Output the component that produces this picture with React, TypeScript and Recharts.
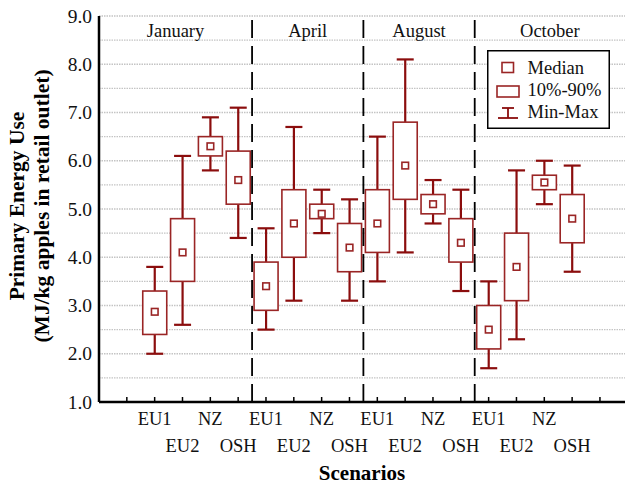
import React from "react";
import {
  ComposedChart, Bar, XAxis, YAxis, CartesianGrid, ReferenceLine,
  ReferenceArea, Legend,
} from "recharts";

// boxes per month, in scenario order EU1, EU2, NZ, OSH
const months = ["January", "April", "August", "October"];
const scenarios = ["EU1", "EU2", "NZ", "OSH"];
const minVals = [2.0, 2.6, 5.8, 4.4, 2.5, 3.1, 4.5, 3.1, 3.5, 4.1, 4.7, 3.3, 1.7, 2.3, 5.1, 3.7];
const q10Vals = [2.4, 3.5, 6.1, 5.1, 2.9, 4.0, 4.8, 3.7, 4.1, 5.2, 4.9, 3.9, 2.1, 3.1, 5.4, 4.3];
const medianVals = [2.87, 4.1, 6.3, 5.6, 3.4, 4.7, 4.9, 4.2, 4.7, 5.9, 5.1, 4.3, 2.5, 3.8, 5.55, 4.8];
const q90Vals = [3.3, 4.8, 6.5, 6.2, 3.9, 5.4, 5.1, 4.7, 5.4, 6.8, 5.3, 4.8, 3.0, 4.5, 5.7, 5.3];
const maxVals = [3.8, 6.1, 6.9, 7.1, 4.6, 6.7, 5.4, 5.2, 6.5, 8.1, 5.6, 5.4, 3.5, 5.8, 6.0, 5.9];
const yTicks = [1, 1.5, 2, 2.5, 3, 3.5, 4, 4.5, 5, 5.5, 6, 6.5, 7, 7.5, 8, 8.5, 9];

const LEAD = 2; // empty slots before the first box
const X_END = 18.9;
const FONT = "'Liberation Serif', 'Times New Roman', serif";
const RED = "#8b0d0d";
const BOX = "#9a2525";

const rows = minVals.map((mn, i) => ({
  pos: LEAD + i,
  min: mn, q10: q10Vals[i], median: medianVals[i], q90: q90Vals[i], max: maxVals[i],
  range: [mn, maxVals[i]],
}));
const xTicks = Array.from({ length: 19 }, (_, i) => i);
const separators = months.slice(0, -1).map((_, m) => LEAD + scenarios.length * (m + 1) - 0.5);
const bounds = [0, ...separators, X_END];

function BoxShape(props: any) {
  const { x, y, width, height, payload } = props;
  if (!payload) return null;
  const top = Math.min(y, y + height), bottom = Math.max(y, y + height);
  const k = (bottom - top) / (payload.max - payload.min);
  const py = (v: number) => bottom - (v - payload.min) * k;
  const cx = x + width / 2;
  const cap = 8.5;
  const m = py(payload.median);
  return (
    <g>
      <line x1={cx} x2={cx} y1={py(payload.max)} y2={py(payload.q90)} stroke={RED} strokeWidth={2.2} />
      <line x1={cx} x2={cx} y1={py(payload.q10)} y2={py(payload.min)} stroke={RED} strokeWidth={2.2} />
      <line x1={cx - cap} x2={cx + cap} y1={py(payload.max)} y2={py(payload.max)} stroke={RED} strokeWidth={2.2} />
      <line x1={cx - cap} x2={cx + cap} y1={py(payload.min)} y2={py(payload.min)} stroke={RED} strokeWidth={2.2} />
      <rect x={x} y={py(payload.q90)} width={width} height={py(payload.q10) - py(payload.q90)}
        fill="#fff" stroke={BOX} strokeWidth={1.6} />
      <rect x={cx - 3.3} y={m - 3.3} width={6.6} height={6.6} fill="#fff" stroke={BOX} strokeWidth={1.6} />
    </g>
  );
}

function BottomTick(props: any) {
  const { x, y, payload } = props;
  const idx = payload.value - LEAD;
  const inRange = idx >= 0 && idx < rows.length;
  return (
    <g>
      <line x1={x} x2={x} y1={y} y2={y - 5} stroke="#000" strokeWidth={1.5} />
      {inRange && (
        <text x={x} y={y + (idx % 2 ? 50 : 23)} textAnchor="middle" fontFamily={FONT}
          fontSize={18.5} fill="#111">{scenarios[idx % scenarios.length]}</text>
      )}
    </g>
  );
}

function TopTick(props: any) {
  const { x, y } = props;
  return <line x1={x} x2={x} y1={y} y2={y + 5} stroke="#000" strokeWidth={1.5} />;
}

function LeftTick(props: any) {
  const { x, y, payload } = props;
  if (!Number.isInteger(payload.value)) return null;
  return (
    <text x={x - 7} y={y + 6.5} textAnchor="end" fontFamily={FONT} fontSize={19.5} fill="#111">
      {payload.value.toFixed(1)}
    </text>
  );
}

function YLabel(props: any) {
  const cy = 206;
  return (
    <g fontFamily={FONT} fontWeight="bold" fontSize={21.5} fill="#000">
      <text transform={`translate(17, ${cy}) rotate(-90)`} textAnchor="middle" dominantBaseline="central">
        Primary Energy Use
      </text>
      <text transform={`translate(42, ${cy}) rotate(-90)`} textAnchor="middle" dominantBaseline="central">
        (MJ/kg apples in retail outlet)
      </text>
    </g>
  );
}

function XLabel(props: any) {
  const vb = props.viewBox || {};
  return (
    <text x={vb.x + vb.width / 2} y={480} textAnchor="middle" fontFamily={FONT}
      fontWeight="bold" fontSize={21} fill="#000">Scenarios</text>
  );
}

function LegendBox() {
  return (
    <svg width={123} height={79} style={{ display: "block" }}>
      <rect x={0.75} y={0.75} width={121.5} height={77.5} fill="#fff" stroke="#000" strokeWidth={1.5} />
      <g stroke={BOX} strokeWidth={1.6} fill="#fff">
        <rect x={15} y={12.5} width={11.5} height={10} />
        <rect x={10} y={36} width={22} height={11} />
      </g>
      <g stroke={RED} strokeWidth={1.8}>
        <line x1={15} x2={27} y1={58} y2={58} />
        <line x1={21} x2={21} y1={58} y2={68} />
        <line x1={11} x2={31} y1={68} y2={68} />
      </g>
      <g fontFamily={FONT} fontSize={18.5} fill="#111">
        <text x={40.5} y={23.5}>Median</text>
        <text x={40.5} y={46}>10%-90%</text>
        <text x={40.5} y={68}>Min-Max</text>
      </g>
    </svg>
  );
}

export default function App() {
  return (
    <div style={{ position: "absolute", left: 0, top: 0, width: 625, height: 484, background: "#fff" }}>
      <ComposedChart width={625} height={484} data={rows}
        margin={{ top: 16, right: 0, bottom: 0, left: 0 }}>
        <CartesianGrid vertical={false} stroke="#c4c4c4" strokeDasharray="1.5 1" strokeWidth={1.4} />
        {months.map((mo, m) => (
          <ReferenceArea key={mo} x1={bounds[m]} x2={bounds[m + 1]} fill="none" fillOpacity={0}
            strokeOpacity={0} ifOverflow="visible"
            label={{ value: mo, position: "insideTop", offset: 8, fontFamily: FONT, fontSize: 18.5, fill: "#111" }} />
        ))}
        {separators.map((s) => (
          <ReferenceLine key={s} x={s} stroke="#000" strokeWidth={1.8} strokeDasharray="18 8" />
        ))}
        <XAxis dataKey="pos" type="number" domain={[0, X_END]} ticks={xTicks} interval={0}
          allowDataOverflow height={82} tickSize={0} tickMargin={0} tick={<BottomTick />}
          axisLine={{ stroke: "#000", strokeWidth: 2.5 }} tickLine={false}
          label={{ content: <XLabel /> }} />
        <XAxis xAxisId="top" orientation="top" dataKey="pos" type="number" domain={[0, X_END]}
          ticks={xTicks} interval={0} allowDataOverflow height={0} tickSize={0} tickMargin={0}
          tick={<TopTick />} axisLine={{ stroke: "#000", strokeWidth: 2 }} tickLine={false} />
        <YAxis type="number" domain={[1, 9]} ticks={yTicks} interval={0} width={99}
          tickSize={0} tickMargin={0} tick={<LeftTick />} tickLine={false}
          axisLine={{ stroke: "#000", strokeWidth: 2.5 }} label={{ content: <YLabel /> }} />
        <Bar dataKey="range" barSize={24} shape={<BoxShape />} isAnimationActive={false} />
        <Legend layout="horizontal" verticalAlign="middle" align="center" content={<LegendBox />}
          wrapperStyle={{ position: "absolute", left: 487, top: 50, width: 123, height: 79 }} />
      </ComposedChart>
    </div>
  );
}
